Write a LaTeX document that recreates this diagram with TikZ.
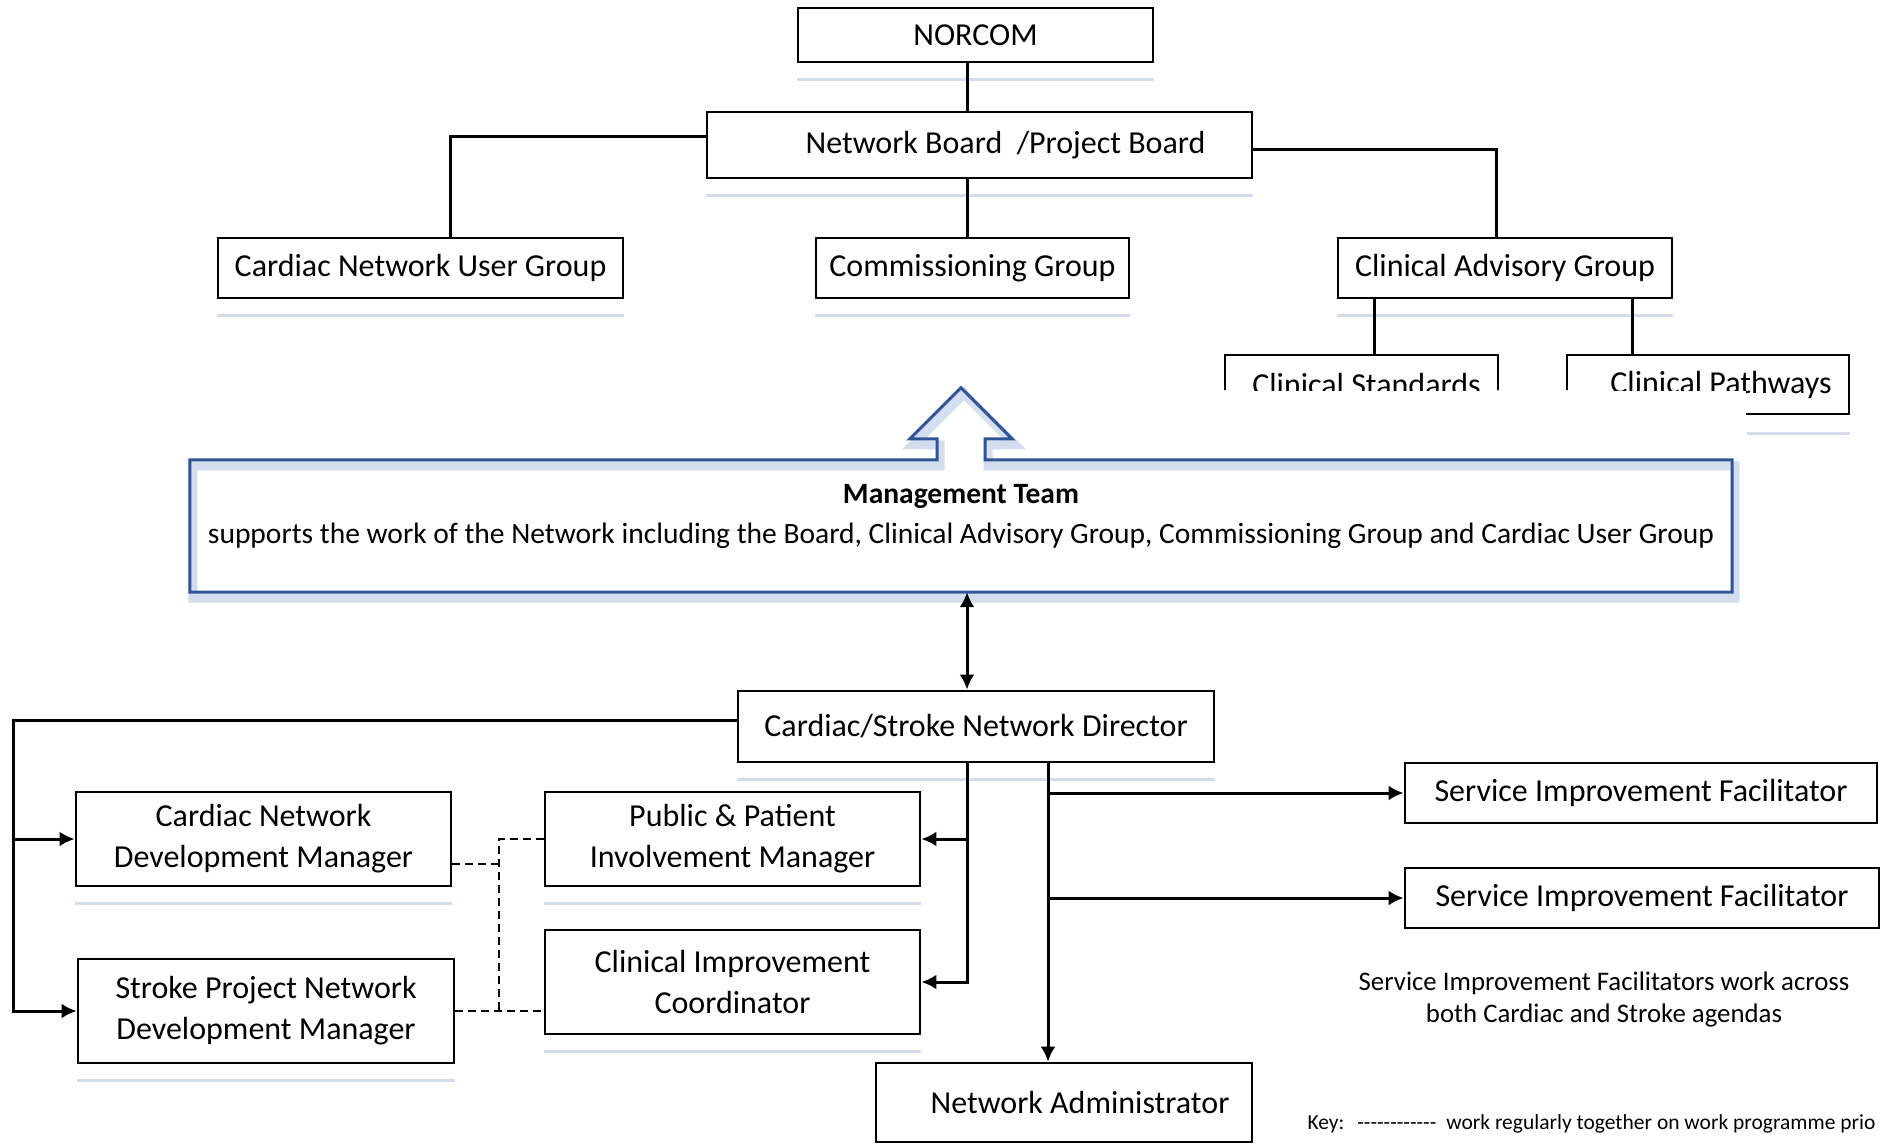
\documentclass[tikz,border=0pt]{standalone}
\usepackage{fontspec}
\setmainfont{Carlito}
\usetikzlibrary{arrows.meta,positioning}
\definecolor{teamblue}{HTML}{2F5597}
\definecolor{glow}{HTML}{D3DDEE}

\begin{document}
\begin{tikzpicture}[x=1pt,y=-1pt,
  every node/.style={font=\fontsize{32}{41}\selectfont},
  box/.style={draw,line width=2.8pt,inner sep=0pt,align=center},
  reflect/.style={glow,line width=3pt},
  link/.style={line width=3pt},
  >={Latex[length=15pt,width=15pt]},
  arr/.style={link,->},
  work/.style={line width=2.6pt,dash pattern=on 8pt off 5pt}]
  \useasboundingbox (0,0) rectangle (1881,1144);

  \coordinate (trunk) at (967,0);      % NORCOM - Board - Commissioning - Director
  \coordinate (stdsline) at (1374,0);  % to Clinical Standards
  \coordinate (pathsline) at (1632,0); % to Clinical Pathways
  \coordinate (rail) at (13,720);      % Director to the managers
  \coordinate (axis2) at (1048,0);     % Director to facilitators
  \coordinate (dash) at (499,0);       % work together

  % Top groups
  \node[box,minimum width=355,minimum height=54] (norcom) at (975.5,35) {NORCOM};
  \node[box,minimum width=545,minimum height=66] (board) at (979.5,145) {\hspace*{52pt}Network Board~ /Project Board};
  \node[box,minimum width=405,minimum height=60] (userg) at (420.5,268) {Cardiac Network User Group};
  \node[box,minimum width=313,minimum height=60] (comm) at (972.5,268) {Commissioning Group};
  \node[box,minimum width=334,minimum height=60] (cag) at (1505,268) {Clinical Advisory Group};

  % Sub groups (cut off)
  \begin{scope}
    \clip (0,0) -- (1881,0) -- (1881,430) -- (1746,430) -- (1746,390) -- (0,390) -- cycle;
    \node[box,minimum width=273,minimum height=59] (stds) at (1361.5,384.5) {\hspace*{10pt}Clinical Standards};
    \node[box,minimum width=282,minimum height=59] (paths) at (1708,384.5) {\hspace*{26pt}Clinical Pathways};
  \end{scope}

  % Staff
  \node[box,minimum width=476,minimum height=71] (dir) at (976,726.5) {Cardiac/Stroke Network Director};
  \node[box,minimum width=375,minimum height=94] (cndm) at (263.5,839) {Cardiac Network\\ Development Manager};
  \node[box,minimum width=376,minimum height=104] (spndm) at (266,1011) {Stroke Project Network\\ Development Manager};
  \node[box,minimum width=375,minimum height=94] (ppim) at (732.5,839) {Public \& Patient\\ Involvement Manager};
  \node[box,minimum width=375,minimum height=104] (cic) at (732.5,982) {Clinical Improvement\\ Coordinator};
  \node[box,minimum width=472,minimum height=60] (sif1) at (1641,793) {Service Improvement Facilitator};
  \node[box,minimum width=474,minimum height=60] (sif2) at (1642,898) {Service Improvement Facilitator};
  \node[box,minimum width=376,minimum height=79] (nadm) at (1064,1102.5) {\hspace*{32pt}Network Administrator};

  % Reflections
  \foreach \b in {norcom,board,userg,comm,cag,dir,cndm,spndm,ppim,cic}
    \draw[reflect] ([yshift=-16pt]\b.south west) -- ([yshift=-16pt]\b.south east);
  \draw[reflect] ([yshift=-18pt]paths.south east) -- ++(-103,0);

  % Management team
  \node[minimum width=1542,minimum height=132,inner sep=0pt] (team) at (961,526) {};
  \node[align=center,font=\fontsize{29.5}{40}\selectfont] (teamtext) at (961,516)
    {\textbf{Management Team}\\ supports the work of the Network including the Board, Clinical Advisory Group, Commissioning Group and Cardiac User Group};
  \draw[glow,line width=9pt,transform canvas={shift={(3pt,-6pt)}}]
    ([xshift=-24pt]team.north) -- ++(0,-21) -- ++(-27,0) -- ++(51,-51) -- ++(51,51) -- ++(-27,0) -- ++(0,21)
    -| (team.south east) -| (team.north west) -- cycle;
  \draw[teamblue,line width=3pt]
    ([xshift=-24pt]team.north) -- ++(0,-21) -- ++(-27,0) -- ++(51,-51) -- ++(51,51) -- ++(-27,0) -- ++(0,21)
    -| (team.south east) -| (team.north west) -- cycle;

  % Links at the top
  \draw[link] (norcom.south -| trunk) -- (board.north -| trunk);
  \draw[link] (board.south -| trunk) -- (comm.north -| trunk);
  \draw[link] ([yshift=9pt]board.west) -| ([xshift=30pt]userg.north);
  \draw[link] ([yshift=-4pt]board.east) -| ([xshift=-9pt]cag.north);
  \draw[link] (cag.south -| stdsline) -- (stds.north -| stdsline);
  \draw[link] (cag.south -| pathsline) -- (paths.north -| pathsline);

  % Links from the director
  \draw[link,<->] (team.south -| trunk) -- (dir.north -| trunk);
  \draw[arr] (dir.west |- rail) -- (rail) |- (spndm.west);
  \draw[arr] (rail |- cndm.west) -- (cndm.west);
  \draw[arr] (dir.south -| trunk) |- (cic.east);
  \draw[arr] (trunk |- ppim.east) -- (ppim.east);
  \draw[arr] (dir.south -| axis2) -- (nadm.north -| axis2);
  \draw[arr] (axis2 |- sif1.west) -- (sif1.west);
  \draw[arr] (axis2 |- sif2.west) -- (sif2.west);

  % Working together
  \coordinate (d1) at ([yshift=-25pt]cndm.east);
  \draw[work] (d1) -- (d1 -| dash);
  \draw[work] (ppim.west) -| (dash |- spndm.east);
  \draw[work] (spndm.east) -- (cic.west |- spndm.east);

  % Notes
  \node[align=center,font=\fontsize{26.8}{32}\selectfont] (note) at (1604,999)
    {Service Improvement Facilitators work across\\ both Cardiac and Stroke agendas};
  \node[anchor=west,font=\fontsize{21.5}{24}\selectfont] (key) at (1304,1124)
    {Key:\hspace{13pt}{-}{-}{-}{-}{-}{-}{-}{-}{-}{-}{-}{-}\hspace{10pt}work regularly together on work programme prio};
\end{tikzpicture}
\end{document}
